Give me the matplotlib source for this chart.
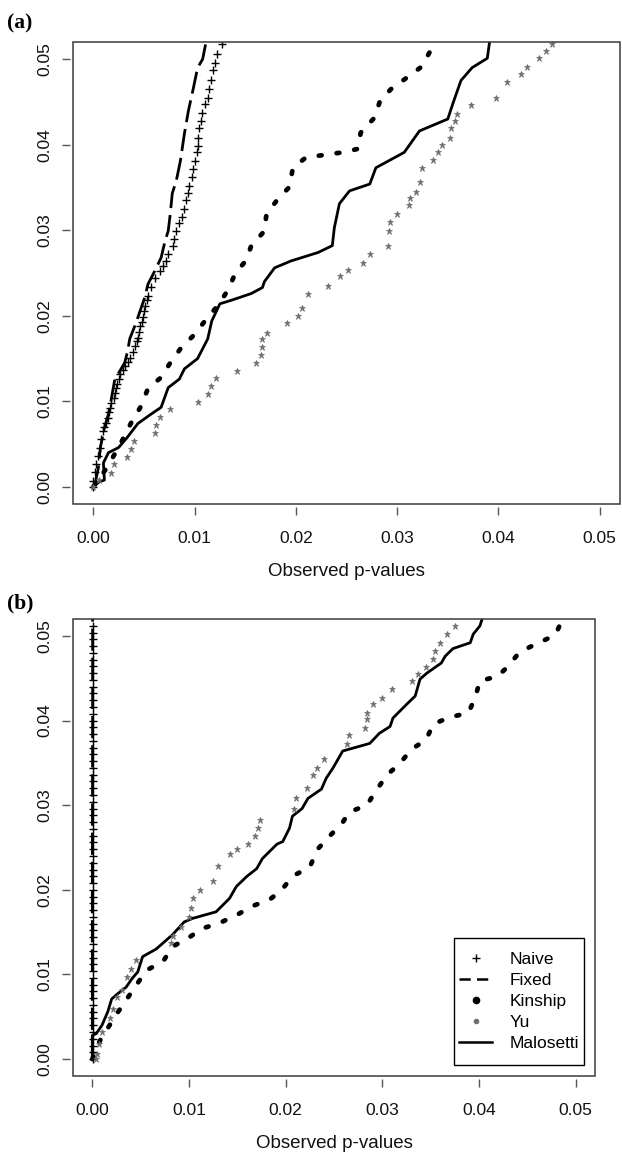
import matplotlib
matplotlib.use('Agg')
import matplotlib.pyplot as plt
from matplotlib.lines import Line2D
from matplotlib.patches import Rectangle

plt.rcParams['font.family'] = ['Liberation Sans', 'DejaVu Sans']

tick_values = [0.00, 0.01, 0.02, 0.03, 0.04, 0.05]
tick_labels = ['0.00', '0.01', '0.02', '0.03', '0.04', '0.05']
legend_labels = ['Naive', 'Fixed', 'Kinship', 'Yu', 'Malosetti']
x_label = 'Observed p-values'

# ---------------- Panel (a) ----------------
naive_a_obs = [0.0, 0.0, 0.0002, 0.0003, 0.0005, 0.0007, 0.0008, 0.0010, 0.0011, 0.0013, 0.0015,
               0.0016, 0.0017, 0.0018, 0.0020, 0.0021, 0.0022, 0.0023, 0.0025, 0.0026, 0.0029, 0.0031,
               0.0034, 0.0036, 0.0039, 0.0041, 0.0043, 0.0044, 0.0045, 0.0046, 0.0048, 0.0049, 0.0050,
               0.0051, 0.0053, 0.0054, 0.0057, 0.0061, 0.0066, 0.0069, 0.0072, 0.0074, 0.0079, 0.0080,
               0.0082, 0.0085, 0.0088, 0.0090, 0.0092, 0.0094, 0.0095, 0.0097, 0.0098, 0.0100, 0.0102,
               0.0103, 0.0103, 0.0104, 0.0106, 0.0107, 0.0110, 0.0113, 0.0114, 0.0116, 0.0118, 0.0120,
               0.0122, 0.0127]
naive_a_exp = [0.0, 0.0007, 0.0017, 0.0027, 0.0036, 0.0046, 0.0056, 0.0065, 0.0070, 0.0075, 0.0081,
               0.0087, 0.0092, 0.0098, 0.0104, 0.0110, 0.0115, 0.0120, 0.0126, 0.0132, 0.0137, 0.0141,
               0.0146, 0.0151, 0.0158, 0.0165, 0.0170, 0.0174, 0.0181, 0.0188, 0.0193, 0.0198, 0.0205,
               0.0212, 0.0218, 0.0223, 0.0234, 0.0244, 0.0252, 0.0258, 0.0264, 0.0272, 0.0282, 0.0290,
               0.0299, 0.0309, 0.0316, 0.0325, 0.0335, 0.0343, 0.0352, 0.0362, 0.0372, 0.0381, 0.0391,
               0.0399, 0.0408, 0.0419, 0.0428, 0.0437, 0.0448, 0.0455, 0.0465, 0.0475, 0.0487, 0.0496,
               0.0506, 0.0518]

fixed_a_obs = [0.0, 0.0002, 0.0005, 0.0007, 0.0011, 0.0015, 0.0018, 0.0021, 0.0025, 0.0031, 0.0034,
               0.0036, 0.0041, 0.0044, 0.0051, 0.0054, 0.0061, 0.0067, 0.0071, 0.0074, 0.0076, 0.0078,
               0.0082, 0.0086, 0.0090, 0.0094, 0.0099, 0.0103, 0.0108, 0.0111, 0.0113]
fixed_a_exp = [0.0, 0.0005, 0.0022, 0.0046, 0.0069, 0.0085, 0.0104, 0.0124, 0.0133, 0.0145, 0.0159,
               0.0173, 0.0188, 0.0198, 0.0222, 0.0237, 0.0253, 0.0268, 0.0288, 0.0299, 0.0319, 0.0343,
               0.0358, 0.0381, 0.0413, 0.0440, 0.0467, 0.0490, 0.0500, 0.0518, 0.0530]

kinship_a_obs = [0.0, 0.0012, 0.0025, 0.0037, 0.0047, 0.0054, 0.0067, 0.0076, 0.0087, 0.0099, 0.0111,
                 0.0123, 0.0133, 0.0140, 0.0151, 0.0156, 0.0169, 0.0171, 0.0182, 0.0194, 0.0197, 0.0210,
                 0.0228, 0.0246, 0.0261, 0.0264, 0.0278, 0.0283, 0.0294, 0.0308, 0.0324, 0.0333, 0.0336]
kinship_a_exp = [0.0, 0.0020, 0.0046, 0.0074, 0.0094, 0.0115, 0.0128, 0.0145, 0.0163, 0.0177, 0.0195,
                 0.0212, 0.0230, 0.0249, 0.0265, 0.0282, 0.0299, 0.0319, 0.0336, 0.0351, 0.0373, 0.0385,
                 0.0388, 0.0391, 0.0395, 0.0414, 0.0432, 0.0451, 0.0465, 0.0477, 0.0491, 0.0510, 0.0530]

yu_a_obs = [0.0, 0.0006, 0.0018, 0.0020, 0.0033, 0.0037, 0.0040, 0.0061, 0.0062, 0.0066, 0.0076,
            0.0103, 0.0113, 0.0116, 0.0121, 0.0142, 0.0161, 0.0166, 0.0167, 0.0167, 0.0172, 0.0191,
            0.0202, 0.0206, 0.0212, 0.0232, 0.0244, 0.0251, 0.0266, 0.0273, 0.0291, 0.0292, 0.0293,
            0.0300, 0.0312, 0.0313, 0.0319, 0.0323, 0.0325, 0.0335, 0.0340, 0.0344, 0.0352, 0.0353,
            0.0357, 0.0359, 0.0373, 0.0398, 0.0408, 0.0422, 0.0428, 0.0440, 0.0447, 0.0453]
yu_a_exp = [0.0, 0.0008, 0.0016, 0.0027, 0.0035, 0.0044, 0.0054, 0.0063, 0.0072, 0.0082, 0.0091,
            0.0099, 0.0109, 0.0118, 0.0127, 0.0136, 0.0145, 0.0154, 0.0163, 0.0173, 0.0180, 0.0191,
            0.0200, 0.0209, 0.0226, 0.0235, 0.0246, 0.0254, 0.0262, 0.0272, 0.0282, 0.0299, 0.0310,
            0.0319, 0.0329, 0.0338, 0.0345, 0.0356, 0.0373, 0.0382, 0.0391, 0.0400, 0.0408, 0.0419,
            0.0428, 0.0436, 0.0446, 0.0455, 0.0473, 0.0483, 0.0491, 0.0501, 0.0510, 0.0518]

malosetti_a_obs = [0.0, 0.0006, 0.0011, 0.0010, 0.0015, 0.0025, 0.0033, 0.0044, 0.0057, 0.0067, 0.0074,
                   0.0085, 0.0090, 0.0103, 0.0113, 0.0117, 0.0125, 0.0136, 0.0156, 0.0167, 0.0169, 0.0179,
                   0.0195, 0.0222, 0.0236, 0.0238, 0.0243, 0.0253, 0.0273, 0.0279, 0.0307, 0.0322, 0.0350,
                   0.0355, 0.0363, 0.0374, 0.0389, 0.0391, 0.0392]
malosetti_a_exp = [0.0, 0.0006, 0.0008, 0.0028, 0.0040, 0.0046, 0.0057, 0.0074, 0.0085, 0.0093, 0.0116,
                   0.0126, 0.0138, 0.0150, 0.0173, 0.0194, 0.0214, 0.0218, 0.0226, 0.0233, 0.0240, 0.0256,
                   0.0264, 0.0274, 0.0282, 0.0303, 0.0331, 0.0346, 0.0354, 0.0373, 0.0391, 0.0416, 0.0430,
                   0.0448, 0.0475, 0.0490, 0.0501, 0.0518, 0.0530]

# ---------------- Panel (b) ----------------
naive_b_exp = [0.0, 0.0008, 0.0016, 0.0024, 0.0032, 0.0040, 0.0048, 0.0056, 0.0064, 0.0072, 0.0080,
               0.0088, 0.0096, 0.0104, 0.0112, 0.0120, 0.0128, 0.0136, 0.0144, 0.0152, 0.0160, 0.0168,
               0.0176, 0.0184, 0.0192, 0.0200, 0.0208, 0.0216, 0.0224, 0.0232, 0.0240, 0.0248, 0.0256,
               0.0264, 0.0272, 0.0280, 0.0288, 0.0296, 0.0304, 0.0312, 0.0320, 0.0328, 0.0336, 0.0344,
               0.0352, 0.0360, 0.0368, 0.0376, 0.0384, 0.0392, 0.0400, 0.0408, 0.0416, 0.0424, 0.0432,
               0.0440, 0.0448, 0.0456, 0.0464, 0.0472, 0.0480, 0.0488, 0.0496, 0.0504, 0.0512]
naive_b_obs = [0.00005] * len(naive_b_exp)

fixed_b_obs = [0.0, 0.0, 0.00003, 0.00003]
fixed_b_exp = [0.0, 0.0200, 0.0400, 0.0530]

kinship_b_obs = [0.0, 0.0008, 0.0025, 0.0056, 0.0073, 0.0083, 0.0098, 0.0113, 0.0132, 0.0149, 0.0166,
                 0.0183, 0.0196, 0.0207, 0.0225, 0.0233, 0.0245, 0.0258, 0.0266, 0.0284, 0.0294, 0.0305,
                 0.0318, 0.0330, 0.0345, 0.0353, 0.0370, 0.0389, 0.0396, 0.0401, 0.0419, 0.0430, 0.0442,
                 0.0460, 0.0479, 0.0486]
kinship_b_exp = [0.0, 0.0022, 0.0053, 0.0105, 0.0115, 0.0133, 0.0142, 0.0154, 0.0161, 0.0170, 0.0181,
                 0.0188, 0.0200, 0.0216, 0.0227, 0.0248, 0.0263, 0.0278, 0.0292, 0.0300, 0.0318, 0.0336,
                 0.0349, 0.0366, 0.0377, 0.0396, 0.0404, 0.0409, 0.0427, 0.0447, 0.0452, 0.0464, 0.0481,
                 0.0491, 0.0501, 0.0519]

yu_b_obs = [0.0004, 0.0005, 0.0007, 0.0010, 0.0018, 0.0021, 0.0026, 0.0031, 0.0036, 0.0040, 0.0045,
            0.0081, 0.0083, 0.0092, 0.0100, 0.0102, 0.0104, 0.0111, 0.0125, 0.0130, 0.0142, 0.0150,
            0.0161, 0.0168, 0.0171, 0.0173, 0.0209, 0.0211, 0.0222, 0.0228, 0.0232, 0.0240, 0.0263,
            0.0266, 0.0282, 0.0284, 0.0284, 0.0290, 0.0300, 0.0310, 0.0331, 0.0337, 0.0345, 0.0352,
            0.0354, 0.0360, 0.0367, 0.0375]
yu_b_exp = [0.0, 0.0006, 0.0018, 0.0032, 0.0048, 0.0059, 0.0073, 0.0082, 0.0097, 0.0107, 0.0117,
            0.0137, 0.0145, 0.0156, 0.0168, 0.0178, 0.0190, 0.0200, 0.0210, 0.0228, 0.0242, 0.0248,
            0.0254, 0.0263, 0.0273, 0.0283, 0.0296, 0.0308, 0.0320, 0.0336, 0.0344, 0.0355, 0.0372,
            0.0383, 0.0391, 0.0402, 0.0409, 0.0419, 0.0427, 0.0437, 0.0447, 0.0455, 0.0463, 0.0473,
            0.0482, 0.0492, 0.0502, 0.0512]

malosetti_b_obs = [0.0, 0.0, 0.0004, 0.0010, 0.0016, 0.0020, 0.0026, 0.0035, 0.0041, 0.0047, 0.0052,
                   0.0066, 0.0083, 0.0095, 0.0103, 0.0128, 0.0142, 0.0149, 0.0160, 0.0170, 0.0176, 0.0191,
                   0.0197, 0.0204, 0.0207, 0.0217, 0.0223, 0.0237, 0.0242, 0.0249, 0.0259, 0.0287, 0.0297,
                   0.0308, 0.0311, 0.0325, 0.0334, 0.0339, 0.0346, 0.0361, 0.0365, 0.0373, 0.0391, 0.0394,
                   0.0401, 0.0406]
malosetti_b_exp = [0.0, 0.0028, 0.0030, 0.0040, 0.0056, 0.0071, 0.0077, 0.0085, 0.0095, 0.0103, 0.0121,
                   0.0130, 0.0147, 0.0162, 0.0166, 0.0174, 0.0190, 0.0204, 0.0216, 0.0225, 0.0237, 0.0254,
                   0.0257, 0.0273, 0.0287, 0.0296, 0.0308, 0.0319, 0.0332, 0.0344, 0.0364, 0.0373, 0.0385,
                   0.0393, 0.0403, 0.0419, 0.0429, 0.0449, 0.0456, 0.0468, 0.0476, 0.0485, 0.0492, 0.0502,
                   0.0512, 0.0530]

# ---------------- styles ----------------
DASH_FIXED = (0, (8, 2.5))
DOT_KIN = (0, (0.6, 3.2))
YU_COLOR = '#6e6e6e'
BOX_COLOR = '#3a3a3a'


def draw_panel(ax, naive, fixed, kinship, yu, malosetti):
    ax.plot(*fixed, color='black', lw=2.0, linestyle=DASH_FIXED, zorder=3)
    ax.plot(*kinship, color='black', lw=3.4, linestyle=DOT_KIN,
            dash_capstyle='round', zorder=3)
    ax.plot(*malosetti, color='black', lw=2.0, solid_joinstyle='round', zorder=4)
    ax.plot(*naive, linestyle='none', marker='+', color='black', ms=5.5, mew=1.0, zorder=5)
    ax.plot(*yu, linestyle='none', marker='*', color=YU_COLOR, ms=5.0, mew=0.5, zorder=5)

    ax.set_xlim(-0.002, 0.052)
    ax.set_ylim(-0.002, 0.052)
    ax.set_xticks(tick_values)
    ax.set_xticklabels(tick_labels)
    ax.set_yticks(tick_values)
    ax.set_yticklabels(tick_labels)
    for name, sp in ax.spines.items():
        sp.set_color('none')
    ax.spines['left'].set_position(('outward', 2))
    ax.spines['bottom'].set_position(('outward', 2))
    ax.tick_params(axis='both', direction='out', length=5.5, width=1.0, color='#555555',
                   labelsize=12.5, labelcolor='#111111')
    ax.tick_params(axis='x', pad=12)
    ax.tick_params(axis='y', pad=7, labelrotation=90)
    for lab in ax.get_yticklabels():
        lab.set_verticalalignment('center')
    ax.add_patch(Rectangle((0, 0), 1, 1, transform=ax.transAxes, fill=False,
                           ec=BOX_COLOR, lw=1.1, clip_on=False, zorder=6))
    ax.set_xlabel(x_label, fontsize=13.5, labelpad=12, color='#111111')


fig = plt.figure(figsize=(6.22, 11.55), dpi=100)
ax_a = fig.add_axes([73 / 622, 1 - 504 / 1155, 547 / 622, 462 / 1155])
ax_b = fig.add_axes([73 / 622, 1 - 1076 / 1155, 522 / 622, 457 / 1155])

draw_panel(ax_a, (naive_a_obs, naive_a_exp), (fixed_a_obs, fixed_a_exp),
           (kinship_a_obs, kinship_a_exp), (yu_a_obs, yu_a_exp),
           (malosetti_a_obs, malosetti_a_exp))
draw_panel(ax_b, (naive_b_obs, naive_b_exp), (fixed_b_obs, fixed_b_exp),
           (kinship_b_obs, kinship_b_exp), (yu_b_obs, yu_b_exp),
           (malosetti_b_obs, malosetti_b_exp))

handles = [
    Line2D([], [], linestyle='none', marker='+', color='black', ms=6, mew=1.0),
    Line2D([], [], color='black', lw=1.8, linestyle=(0, (4.5, 2.5))),
    Line2D([], [], linestyle='none', marker='o', color='black', ms=4.5),
    Line2D([], [], linestyle='none', marker='o', color=YU_COLOR, ms=3),
    Line2D([], [], color='black', lw=1.8),
]
# legend frame (drawn separately so that padding matches the reference)
ax_b.add_patch(Rectangle((0.7299, 0.0241), 0.2490, 0.2779, transform=ax_b.transAxes,
                         fill=True, fc='white', ec='black', lw=1.0, zorder=7))
leg = ax_b.legend(handles, legend_labels, loc='center', bbox_to_anchor=(0.8544, 0.163),
                  borderaxespad=0, fontsize=12.5, frameon=False,
                  handlelength=1.9, handletextpad=1.0,
                  labelspacing=0.34, borderpad=0.0)
leg.set_zorder(8)

fig.text(7 / 622, 1 - 23 / 1155, '(a)', fontfamily=['Liberation Serif', 'DejaVu Serif'],
         fontweight='bold', fontsize=15.5, va='center', ha='left')
fig.text(7 / 622, 1 - 603 / 1155, '(b)', fontfamily=['Liberation Serif', 'DejaVu Serif'],
         fontweight='bold', fontsize=15.5, va='center', ha='left')

fig.savefig('out.png', dpi=100)
